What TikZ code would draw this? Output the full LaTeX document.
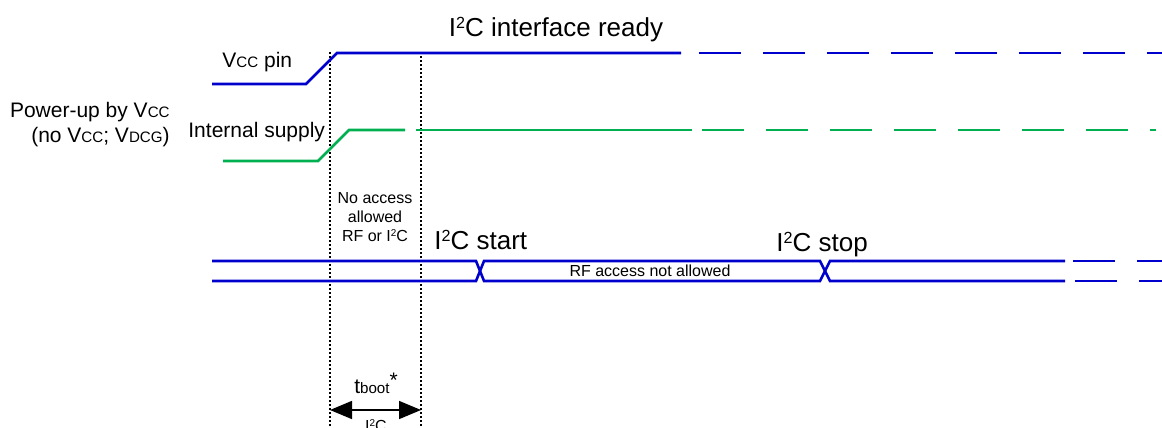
\documentclass[tikz,border=0pt]{standalone}
\usepackage{fontspec}
\setmainfont{Liberation Sans}
\usetikzlibrary{arrows.meta}
\definecolor{sigblue}{RGB}{0,0,204}
\definecolor{siggreen}{RGB}{0,176,80}
\makeatletter
\newcommand{\lo}[1]{{\fontsize{\fpeval{0.72*\f@size}}{1em}\selectfont #1}}
\newcommand{\sqr}{\raisebox{0.3em}{\fontsize{\fpeval{0.62*\f@size}}{1em}\selectfont 2}}
\makeatother
\tikzset{
  bline/.style={sigblue, line width=1.3pt},
  gline/.style={siggreen, line width=1.3pt},
  longdash/.style={dash pattern=on 21pt off 11pt},
  dotline/.style={line width=1pt, dash pattern=on 1pt off 1pt},
  bigtxt/.style={inner sep=0pt, font=\fontsize{13}{15}\selectfont},
  midtxt/.style={inner sep=0pt, font=\fontsize{10.5}{12.5}\selectfont},
  smalltxt/.style={inner sep=0pt, font=\fontsize{8}{9.3}\selectfont},
  tip/.tip={Triangle[length=11pt,width=9pt]}
}
\begin{document}
\begin{tikzpicture}[x=0.5pt,y=-0.5pt]
    \useasboundingbox (0,0) rectangle (1162,428);
    \foreach \x/\n in {330/t0,421/t1}
    {
    \coordinate (\n) at (\x,52);
    \coordinate (\n a) at (\x,410);
    \draw[dotline] (\n) -- (\x,440);
    }
    \draw[bline] (212,84) -- (306,84) -- (337,53) -- (681,53);
    \draw[bline,longdash] (699,53) -- (1162,53);
    \draw[gline] (223,161) -- (318,161) -- (349,130) -- (405,130);
    \draw[gline] (416,130) -- (692,130);
    \draw[gline,longdash] (702,130) -- (1156,130);
    \draw[bline] (212,261) -- (476,261) -- (484,281) -- (820,281) -- (830,261) -- (1065,261);
    \draw[bline] (212,281) -- (476,281) -- (484,261) -- (820,261) -- (830,281) -- (1065,281);
    \draw[bline,longdash] (1073,261) -- (1162,261);
    \draw[bline,longdash] (1075,281) -- (1162,281);
    \draw[tip-tip, line width=0.8pt] (t0a) -- (t1a);
    \node[bigtxt, anchor=base] (ready) at (556,36) {I\sqr C interface ready};
    \node[midtxt, anchor=base west] (vccpin) at (222,68) {V\lo{CC} pin};
    \node[midtxt, anchor=base west] (intsup) at (188,137) {Internal supply};
    \node[midtxt, anchor=base east] (pwr1) at (170,117) {Power-up by V\lo{CC}};
    \node[midtxt, anchor=base east] (pwr2) at (170,142) {(no V\lo{CC}; V\lo{DCG})};
    \node[smalltxt, align=center] (noacc) at (375,217) {No access\\allowed\\RF or I\sqr C};
    \node[bigtxt, anchor=base west] (start) at (434,249) {I\sqr C start};
    \node[bigtxt, anchor=base west] (stop) at (776,251) {I\sqr C stop};
    \node[smalltxt, anchor=base] (rfna) at (650,276) {RF access not allowed};
    \node[midtxt, anchor=base] (tboot) at (376,393) {t\lo{boot}\raisebox{0.25em}{*}};
    \node[smalltxt, anchor=base] (i2cb) at (376,431) {I\sqr C};
\end{tikzpicture}
\end{document}
